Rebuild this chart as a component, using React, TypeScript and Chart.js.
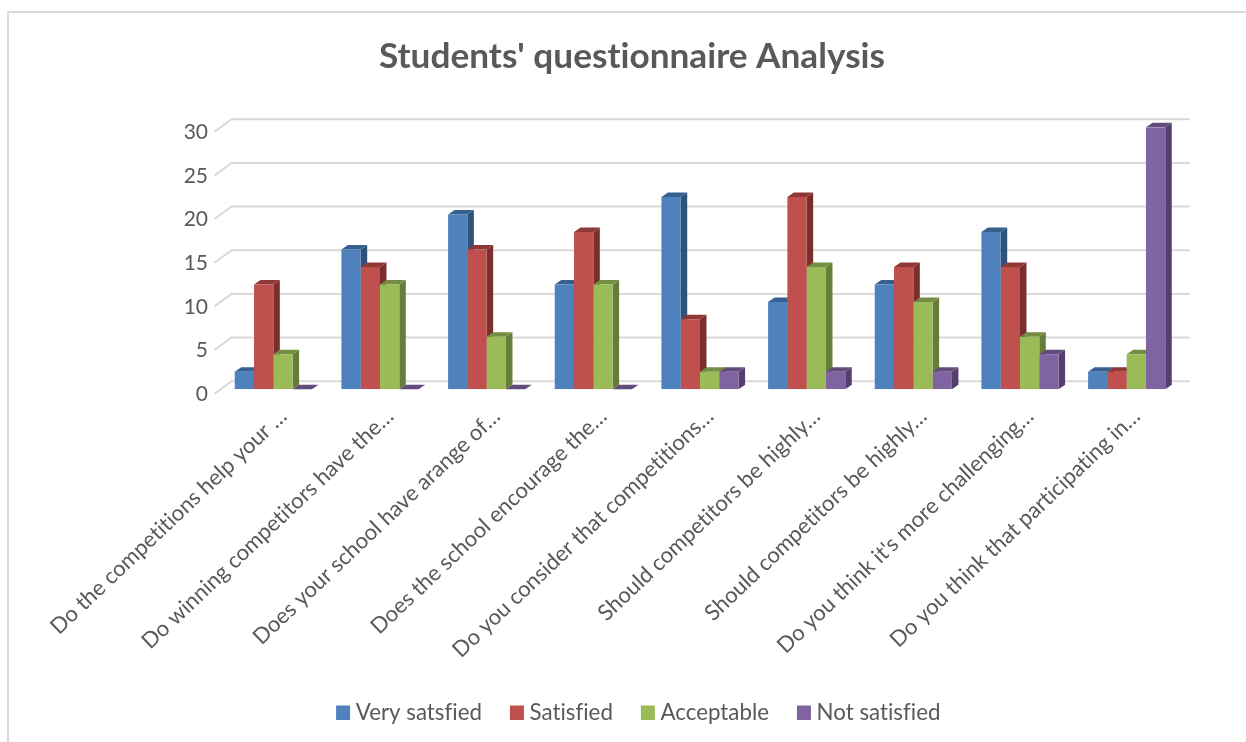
import React, { useEffect, useRef } from "react";
import { Chart, registerables } from "chart.js";

Chart.register(...registerables);

const categories = [
  "Do the competitions help your …",
  "Do winning competitors have the…",
  "Does your school have arange of…",
  "Does the school encourage the…",
  "Do you consider that competitions…",
  "Should competitors be highly…",
  "Should competitors be highly…",
  "Do you think it's more challenging…",
  "Do you think that participating in…",
];
const verySatisfied = [2, 16, 20, 12, 22, 10, 12, 18, 2];
const satisfied = [12, 14, 16, 18, 8, 22, 14, 14, 2];
const acceptable = [4, 12, 6, 12, 2, 14, 10, 6, 4];
const notSatisfied = [0, 0, 0, 0, 2, 2, 2, 4, 30];
const seriesNames = ["Very satsfied", "Satisfied", "Acceptable", "Not satisfied"];
const frontColors = ["#4F81BD", "#C0504D", "#9BBB59", "#8064A2"];
const sideColors = ["#2F5279", "#7B2F2D", "#677D39", "#533F6B"];
const topColors = ["#35608F", "#8F3835", "#738E42", "#614C7C"];

const FONT = "Lato";
const TEXT = "#595959";
const GRID = "#D9D9D9";
const DEPTH_X = 6.5;
const DEPTH_Y = 4.5;

const plainText = (chart: any) => {
  chart.ctx.textRendering = "optimizeSpeed";
};

const frame3d = {
  id: "frame3d",
  beforeLayout: plainText,
  beforeDraw(chart: any) {
    const { ctx, width, height } = chart;
    plainText(chart);
    ctx.save();
    ctx.fillStyle = "#FFFFFF";
    ctx.fillRect(0, 0, width, height);
    ctx.fillStyle = GRID;
    ctx.fillRect(7, 11, 2, height - 11);
    ctx.fillRect(7, 11, width - 7, 2);
    ctx.restore();
  },
  beforeDatasetsDraw(chart: any) {
    const { ctx, chartArea, scales } = chart;
    ctx.save();
    ctx.strokeStyle = GRID;
    ctx.lineWidth = 2;
    for (const t of scales.y.ticks) {
      const y = scales.y.getPixelForValue(t.value);
      ctx.beginPath();
      ctx.moveTo(chartArea.left - 5.5, y + 4.5);
      ctx.lineTo(chartArea.left + 11.5, y - 8);
      ctx.lineTo(chartArea.right + 10, y - 8);
      ctx.stroke();
    }
    seriesNames.forEach((_, i) => {
      for (const bar of chart.getDatasetMeta(i).data) {
        const p = bar.getProps(["x", "y", "base", "width"], true);
        const l = p.x - p.width / 2;
        const r = p.x + p.width / 2;
        ctx.fillStyle = sideColors[i];
        ctx.beginPath();
        ctx.moveTo(r, p.y);
        ctx.lineTo(r + DEPTH_X, p.y - DEPTH_Y);
        ctx.lineTo(r + DEPTH_X, p.base - DEPTH_Y);
        ctx.lineTo(r, p.base);
        ctx.closePath();
        ctx.fill();
        ctx.fillStyle = topColors[i];
        ctx.beginPath();
        ctx.moveTo(l, p.y);
        ctx.lineTo(l + DEPTH_X, p.y - DEPTH_Y);
        ctx.lineTo(r + DEPTH_X, p.y - DEPTH_Y);
        ctx.lineTo(r, p.y);
        ctx.closePath();
        ctx.fill();
      }
    });
    ctx.restore();
  },
  afterLayout(chart: any) {
    const lg = chart.legend;
    const dx = 9;
    const dy = -8;
    lg.left += dx;
    lg.right += dx;
    lg.top += dy;
    lg.bottom += dy;
  },
};

export default function App() {
  const ref = useRef<HTMLCanvasElement | null>(null);
  useEffect(() => {
    const values = [verySatisfied, satisfied, acceptable, notSatisfied];
    const chart = new Chart(ref.current as HTMLCanvasElement, {
      type: "bar",
      data: {
        labels: categories,
        datasets: seriesNames.map((label, i) => ({
          label,
          data: values[i],
          backgroundColor: frontColors[i],
          borderWidth: 0,
          categoryPercentage: 0.7235,
          barPercentage: 1,
        })),
      },
      options: {
        responsive: false,
        animation: false,
        layout: { padding: { left: 84, right: 66, top: 0, bottom: 0 } },
        plugins: {
          tooltip: { enabled: false },
          title: {
            display: true,
            text: "Students' questionnaire Analysis",
            color: TEXT,
            font: { family: FONT, size: 35.2, weight: "bold" },
            padding: { top: 36, bottom: 49 },
          },
          legend: {
            position: "bottom",
            labels: {
              color: TEXT,
              font: { family: FONT, size: 22.3 },
              boxWidth: 3,
              boxHeight: 3.5,
              padding: 33.5,
              generateLabels: () =>
                seriesNames.map((text, i) => ({
                  text,
                  fillStyle: frontColors[i],
                  strokeStyle: frontColors[i],
                  lineWidth: 11,
                  fontColor: TEXT,
                  datasetIndex: i,
                })),
            },
          },
        },
        scales: {
          x: {
            grid: { display: false, drawTicks: false },
            border: { display: false },
            afterFit: (s: any) => {
              s.height = 287;
            },
            ticks: {
              color: TEXT,
              font: { family: FONT, size: 22 },
              autoSkip: false,
              maxRotation: 43.5,
              minRotation: 43.5,
              labelOffset: 10,
              padding: 14,
            },
          },
          y: {
            min: 0,
            max: 30,
            grid: { display: false, drawTicks: false },
            border: { display: false },
            afterFit: (s: any) => {
              s.width = 136;
            },
            ticks: {
              stepSize: 5,
              color: TEXT,
              font: { family: FONT, size: 21 },
              padding: 12,
              labelOffset: 5,
            },
          },
        },
      },
      plugins: [frame3d],
    } as any);
    return () => chart.destroy();
  }, []);
  return (
    <div style={{ position: "absolute", left: 0, top: 0, width: 1246, height: 742 }}>
      <canvas ref={ref} width={1246} height={742} style={{ display: "block" }} />
    </div>
  );
}
